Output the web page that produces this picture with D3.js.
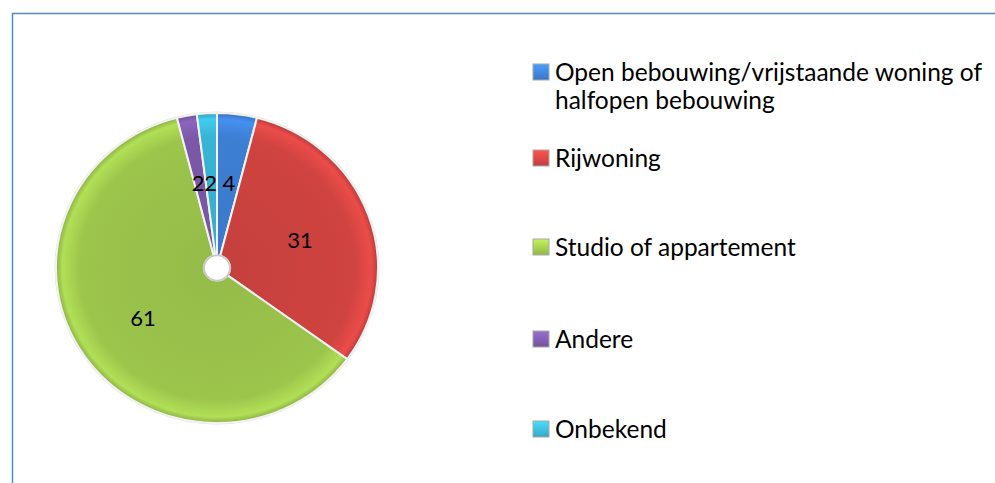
<!DOCTYPE html>
<meta charset="utf-8">
<script src="https://d3js.org/d3.v7.min.js"></script>
<style>
  body { margin: 0; background: #fff; }
  svg text { font-family: Lato, "Open Sans", sans-serif; fill: #000; }
</style>
<body>
<div id="chart"></div>
<script>
// data
var categories = ["Open bebouwing/vrijstaande woning of halfopen bebouwing", "Rijwoning",
                  "Studio of appartement", "Andere", "Onbekend"];
var legendLines = [["Open bebouwing/vrijstaande woning of", "halfopen bebouwing"], ["Rijwoning"],
                   ["Studio of appartement"], ["Andere"], ["Onbekend"]];
var values = [4, 31, 61, 2, 2];
var colors = ["#3d7fd3", "#cf4340", "#9cc54c", "#7b59a8", "#39b4d4"];

var width = 995, height = 483;

var svg = d3.select("#chart").append("svg")
  .attr("width", width)
  .attr("height", height);

// outer frame
svg.append("rect")
  .attr("x", 12.5).attr("y", 13.5)
  .attr("width", width).attr("height", height)
  .attr("fill", "none")
  .attr("stroke", "#5a86be")
  .attr("stroke-width", 1.5);

var defs = svg.append("defs");
colors.forEach(function(c, i) {
  var g = defs.append("radialGradient")
    .attr("id", "grad" + i)
    .attr("gradientUnits", "userSpaceOnUse")
    .attr("cx", 0).attr("cy", 0).attr("r", 160);
  g.append("stop").attr("offset", "0%").attr("stop-color", d3.color(c).darker(0.15));
  g.append("stop").attr("offset", "85%").attr("stop-color", c);
  g.append("stop").attr("offset", "96%").attr("stop-color", d3.color(c).brighter(0.35));
  g.append("stop").attr("offset", "100%").attr("stop-color", d3.color(c).darker(0.3));

  var lg = defs.append("linearGradient")
    .attr("id", "lg" + i)
    .attr("x1", 0).attr("y1", 0).attr("x2", 0).attr("y2", 1);
  lg.append("stop").attr("offset", "0%").attr("stop-color", d3.color(c).brighter(0.6));
  lg.append("stop").attr("offset", "100%").attr("stop-color", d3.color(c).darker(0.2));
});

// pie
var cx = 217, cy = 268, rx = 161, ry = 155;
var r = 160;

var pie = d3.pie().sort(null).value(function(d) { return d; });
var arc = d3.arc().innerRadius(13).outerRadius(r);

var g = svg.append("g")
  .attr("transform", "translate(" + cx + "," + cy + ") scale(" + (rx / r) + "," + (ry / r) + ")");

// soft shadow ring
g.append("circle")
  .attr("r", r + 1.5)
  .attr("fill", "#e4e4e4");

g.selectAll("path.slice")
  .data(pie(values))
  .enter().append("path")
  .attr("class", "slice")
  .attr("d", arc)
  .attr("fill", function(d, i) { return "url(#grad" + i + ")"; })
  .attr("stroke", "#f2f2f2")
  .attr("stroke-width", 2);

// centre hole
g.append("circle")
  .attr("r", 13)
  .attr("fill", "#fff")
  .attr("stroke", "#c8c8c8")
  .attr("stroke-width", 2);

// labels
var lbl = svg.append("g").attr("transform", "translate(" + cx + "," + cy + ")");
var labelPos = [[12, -85], [83, -28], [-74, 50], [-19, -85], [-6.5, -85]];
lbl.selectAll("text")
  .data(pie(values))
  .enter().append("text")
  .attr("x", function(d, i) { return labelPos[i][0]; })
  .attr("y", function(d, i) { return labelPos[i][1]; })
  .attr("text-anchor", "middle")
  .attr("dy", "0.35em")
  .style("font-size", "22px")
  .text(function(d) { return d.data; });

// legend
var legendY = [72, 158, 247, 339, 429];
var legend = svg.append("g");
var items = legend.selectAll("g")
  .data(categories)
  .enter().append("g")
  .attr("transform", function(d, i) { return "translate(533," + legendY[i] + ")"; });

items.append("rect")
  .attr("x", 0).attr("y", -8)
  .attr("width", 16).attr("height", 16)
  .attr("fill", function(d, i) { return "url(#lg" + i + ")"; })
  .attr("stroke", "#a8a8a8")
  .attr("stroke-width", 1);

items.append("text")
  .attr("x", 22)
  .style("font-size", "24.5px")
  .selectAll("tspan")
  .data(function(d, i) { return legendLines[i]; })
  .enter().append("tspan")
  .attr("x", 22)
  .attr("dy", function(d, j) { return j === 0 ? "0.36em" : "28px"; })
  .text(function(d) { return d; });
</script>
</body>
